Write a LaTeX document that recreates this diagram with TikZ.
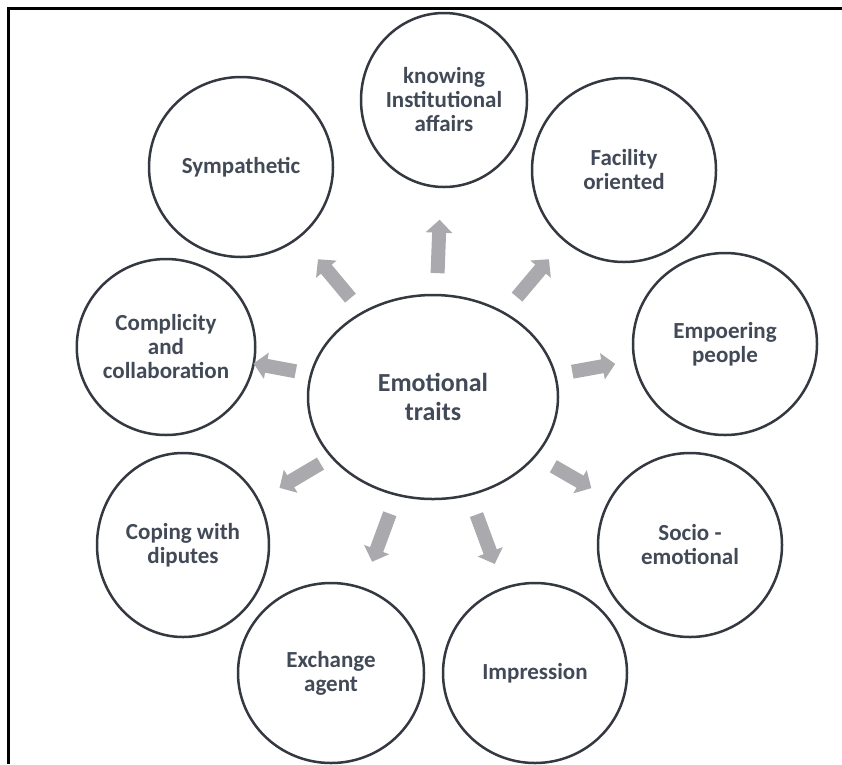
\documentclass[tikz,border=0pt]{standalone}
\usepackage{fontspec}
\setmainfont{Carlito}
\usetikzlibrary{shapes.geometric,arrows.meta,calc}
\definecolor{txt}{RGB}{66,74,87}
\definecolor{rim}{RGB}{52,56,64}
\definecolor{shaft}{RGB}{170,170,174}
\tikzset{
  trait/.style={ellipse, draw=rim, line width=2.5pt, fill=white, inner sep=0pt,
    align=center, text=txt, font=\bfseries\fontsize{23}{24}\selectfont},
  hub/.style={trait, minimum width=250pt, minimum height=204pt,
    font=\bfseries\fontsize{26}{29}\selectfont},
  blockarrow/.style={draw=shaft, line width=14pt,
    -{Triangle[width=26pt,length=13pt]}}
}
\begin{document}
\begin{tikzpicture}[x=1pt,y=-1pt]
\useasboundingbox (0,0) rectangle (842,764);
\fill[white] (0,0) rectangle (842,764);
% frame (left and top edges)
\draw[line width=3pt] (8,764) -- (8,8) -- (842,8);

% central trait
\node[hub] (C) at (433,397) {Emotional\\traits};

% surrounding traits
\node[trait, minimum width=166pt, minimum height=174pt] (K) at (444,100) {knowing\\Institutional\\affairs};
\node[trait, minimum width=184pt, minimum height=184pt] (F) at (624,170) {Facility\\oriented};
\node[trait, minimum width=184pt, minimum height=182pt] (E) at (725,344) {Empoering\\people};
\node[trait, minimum width=184pt, minimum height=184pt] (S) at (690,545) {Socio -\\emotional};
\node[trait, minimum width=184pt, minimum height=180pt] (I) at (535,673) {Impression};
\node[trait, minimum width=186pt, minimum height=180pt] (X) at (331,673) {Exchange\\agent};
\node[trait, minimum width=172pt, minimum height=184pt] (D) at (183,545) {Coping with\\diputes};
\node[trait, minimum width=170pt, minimum height=176pt] (P) at (166,347) {Complicity\\and\\collaboration};
\node[trait, minimum width=184pt, minimum height=180pt] (Y) at (241,167) {Sympathetic};

% radiating arrows
\draw[blockarrow] ($(C)!0.417!(K)$) -- ($(C)!0.597!(K)$);
\draw[blockarrow] ($(C)!0.440!(F)$) -- ($(C)!0.607!(F)$);
\draw[blockarrow] ($(C)!0.477!(E)$) -- ($(C)!0.624!(E)$);
\draw[blockarrow] ($(C)!0.468!(S)$) -- ($(C)!0.616!(S)$);
\draw[blockarrow] ($(C)!0.426!(I)$) -- ($(C)!0.605!(I)$);
\draw[blockarrow] ($(C)!0.423!(X)$) -- ($(C)!0.597!(X)$);
\draw[blockarrow] ($(C)!0.450!(D)$) -- ($(C)!0.614!(D)$);
\draw[blockarrow] ($(C)!0.514!(P)$) -- ($(C)!0.672!(P)$);
\draw[blockarrow] ($(C)!0.430!(Y)$) -- ($(C)!0.599!(Y)$);
\end{tikzpicture}
\end{document}
